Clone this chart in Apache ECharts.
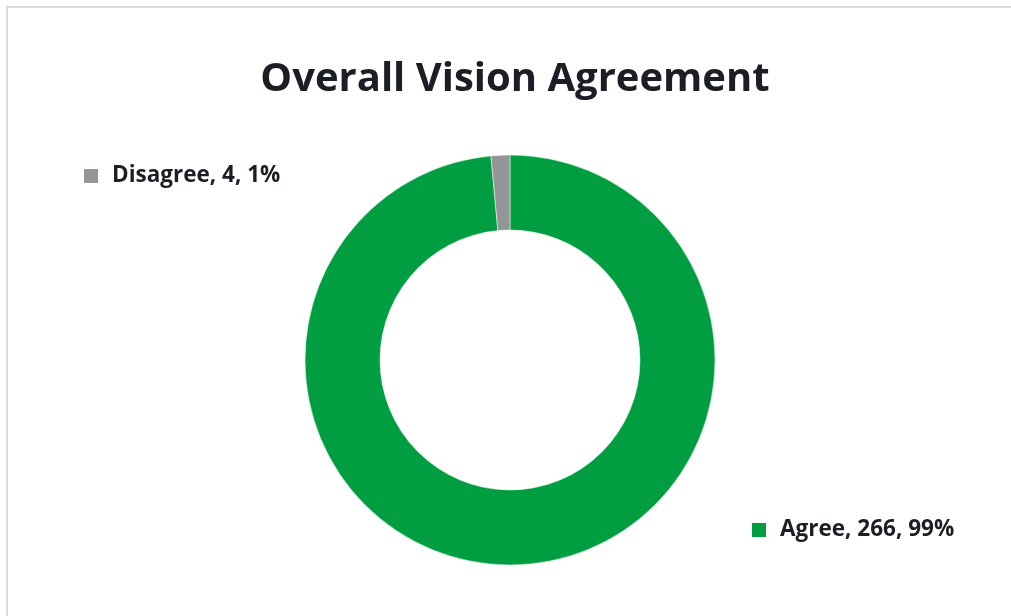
<!DOCTYPE html>
<html>
<head>
<meta charset="utf-8">
<script src="https://cdn.jsdelivr.net/npm/echarts@6/dist/echarts.min.js"></script>
<style>
html,body{margin:0;padding:0;background:#fff;overflow:hidden;}
#frame{position:absolute;left:6px;top:6px;width:1030px;height:640px;border:2px solid #d9d9d9;box-sizing:border-box;}
#chart{position:absolute;left:0;top:0;width:1011px;height:616px;}
</style>
</head>
<body>
<div id="frame"></div>
<div id="chart"></div>
<script>
const titleText = 'Overall Vision Agreement';
const categories = ['Agree', 'Disagree'];
const values = [266, 4];
const colors = ['#009E40', '#939598'];

const chart = echarts.init(document.getElementById('chart'));
const labelPos = [
  {x: 752, y: 530},
  {x: 84, y: 176}
];
chart.setOption({
  animation: false,
  title: {
    text: titleText,
    left: 510,
    top: 55,
    textAlign: 'center',
    textStyle: {fontFamily: 'Open Sans', fontWeight: 'bold', fontSize: 40, color: '#1b1e24'}
  },
  series: [{
    type: 'pie',
    center: [510, 360],
    radius: [130, 205],
    startAngle: 90,
    clockwise: true,
    data: categories.map((c, i) => ({name: c, value: values[i], itemStyle: {color: colors[i]}})),
    itemStyle: {borderColor: '#fff', borderWidth: 0.5},
    label: {
      show: true,
      position: 'outside',
      formatter: p => '{m' + p.dataIndex + '|}{t|' + p.name + ', ' + p.value + ', ' + Math.round(p.percent) + '%}',
      rich: {
        m0: {width: 14, height: 14, backgroundColor: colors[0]},
        m1: {width: 14, height: 14, backgroundColor: colors[1]},
        t: {fontFamily: 'Open Sans', fontWeight: 'bold', fontSize: 22.5, color: '#1b1e24', padding: [0, 0, 0, 14]}
      }
    },
    labelLine: {show: false},
    labelLayout: p => ({x: labelPos[p.dataIndex].x, y: labelPos[p.dataIndex].y, align: 'left', verticalAlign: 'middle'})
  }]
});
</script>
</body>
</html>
